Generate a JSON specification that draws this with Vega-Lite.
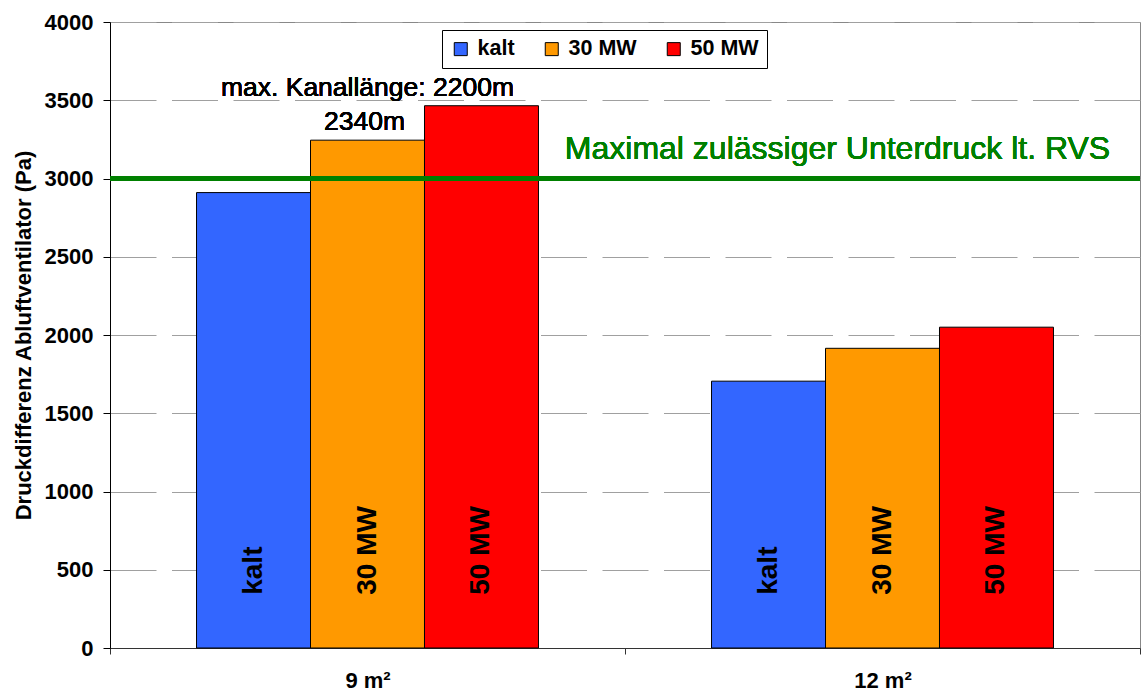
{
  "$schema": "https://vega.github.io/schema/vega-lite/v6.json",
  "width": 1030,
  "height": 626,
  "autosize": {"type": "none"},
  "padding": {"left": 110, "top": 22, "right": 1, "bottom": 48},
  "background": "white",
  "config": {
    "font": "Liberation Sans",
    "view": {"stroke": "#888888", "strokeWidth": 1},
    "legend": {
      "orient": "none", "legendX": 332, "legendY": 8, "direction": "horizontal",
      "strokeColor": "black", "fillColor": "white", "padding": 8,
      "symbolType": "square", "symbolSize": 169, "symbolStrokeColor": "black",
      "symbolStrokeWidth": 1, "symbolOpacity": 1, "labelFont": "Liberation Sans",
      "labelFontSize": 21.5, "labelFontWeight": "bold", "labelColor": "black",
      "labelOffset": 6, "columnPadding": 26
    }
  },
  "data": {"values": [
    {"area": "9 m²", "series": "kalt", "value": 2910},
    {"area": "9 m²", "series": "30 MW", "value": 3245},
    {"area": "9 m²", "series": "50 MW", "value": 3465},
    {"area": "12 m²", "series": "kalt", "value": 1705},
    {"area": "12 m²", "series": "30 MW", "value": 1915},
    {"area": "12 m²", "series": "50 MW", "value": 2050}
  ]},
  "layer": [
    {
      "mark": {"type": "bar", "stroke": "black", "strokeWidth": 1},
      "encoding": {
        "x": {"field": "area", "type": "nominal", "sort": ["9 m²", "12 m²"],
          "scale": {"paddingInner": 0, "paddingOuter": 0},
          "axis": {"title": null, "labelAngle": 0, "tickBand": "extent", "tickSize": 6,
            "tickColor": "#333333", "domainColor": "#333333", "labelFont": "Liberation Sans", "labelFontSize": 22,
            "labelFontWeight": "bold", "labelColor": "black", "labelPadding": 16, "grid": false}},
        "xOffset": {"field": "series", "type": "nominal", "sort": ["kalt", "30 MW", "50 MW"],
          "scale": {"paddingInner": 0, "paddingOuter": 0.759}},
        "y": {"field": "value", "type": "quantitative",
          "scale": {"domain": [0, 4000], "nice": false},
          "axis": {"title": "Druckdifferenz Abluftventilator (Pa)",
            "values": [0, 500, 1000, 1500, 2000, 2500, 3000, 3500, 4000],
            "format": "d", "grid": true, "gridDash": [46, 15.5], "gridColor": "#a0a0a0",
            "domainColor": "black", "tickColor": "black", "tickSize": 7,
            "labelFont": "Liberation Sans", "labelFontSize": 22, "labelFontWeight": "bold", "labelColor": "black", "labelPadding": 10,
            "titleFont": "Liberation Sans", "titleFontSize": 22, "titleFontWeight": "bold", "titleColor": "black", "titlePadding": 9}},
        "color": {"field": "series", "type": "nominal", "sort": ["kalt", "30 MW", "50 MW"],
          "scale": {"domain": ["kalt", "30 MW", "50 MW"], "range": ["#3366FF", "#FF9900", "#FF0000"]},
          "legend": {"title": null}}
      }
    },
    {
      "mark": {"type": "text", "angle": 270, "align": "left", "baseline": "middle",
        "fontSize": 28, "fontWeight": "bold", "color": "black"},
      "encoding": {
        "x": {"field": "area", "type": "nominal", "sort": ["9 m²", "12 m²"]},
        "xOffset": {"field": "series", "type": "nominal", "sort": ["kalt", "30 MW", "50 MW"]},
        "y": {"datum": 340, "type": "quantitative"},
        "text": {"field": "series"}
      }
    },
    {
      "mark": {"type": "rule", "color": "#008000", "strokeWidth": 5},
      "encoding": {"y": {"datum": 3000, "type": "quantitative"}}
    },
    {
      "mark": {"type": "text", "fontSize": 26.5, "fontWeight": "normal", "align": "center", "baseline": "alphabetic", "color": "black",
        "text": "max. Kanallänge: 2200m"},
      "encoding": {
        "x": {"datum": "9 m²", "type": "nominal"},
        "y": {"datum": 3525, "type": "quantitative"}
      }
    },
    {
      "mark": {"type": "text", "fontSize": 26.5, "fontWeight": "normal", "align": "center", "baseline": "alphabetic", "color": "black",
        "dx": -3, "text": "2340m"},
      "encoding": {
        "x": {"datum": "9 m²", "type": "nominal"},
        "y": {"datum": 3308, "type": "quantitative"}
      }
    },
    {
      "mark": {"type": "text", "fontSize": 32, "fontWeight": "normal", "align": "center", "baseline": "alphabetic", "color": "#008000",
        "dx": -45, "text": "Maximal zulässiger Unterdruck lt. RVS"},
      "encoding": {
        "x": {"datum": "12 m²", "type": "nominal"},
        "y": {"datum": 3123, "type": "quantitative"}
      }
    }
  ]
}
